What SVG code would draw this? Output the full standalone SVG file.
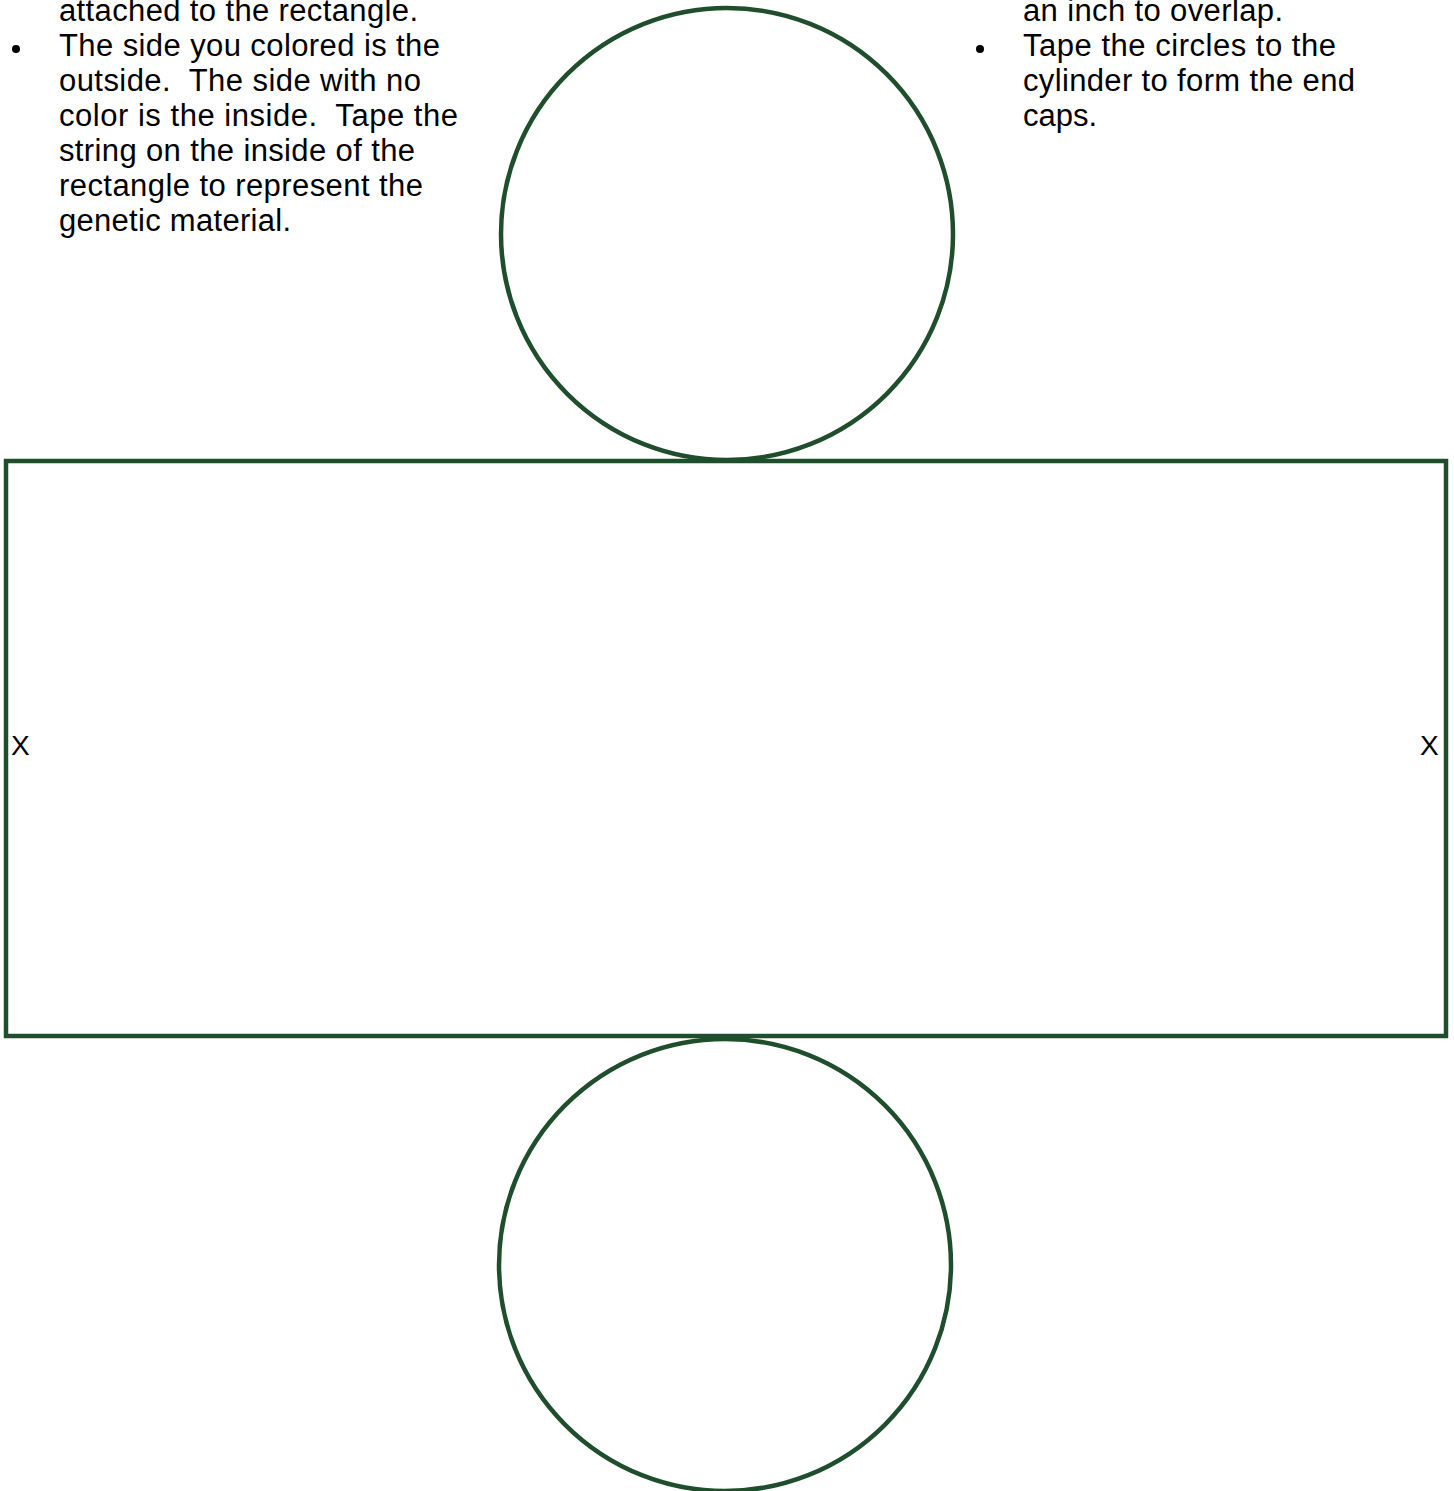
<svg xmlns="http://www.w3.org/2000/svg" width="1454" height="1491" viewBox="0 0 1454 1491">
<style>
.t{font-family:"Liberation Sans",Arial,sans-serif;font-size:31px;fill:#000}
.x{font-family:"Liberation Sans",Arial,sans-serif;font-size:28px;fill:#000}
.s{fill:none;stroke:#1f4e2c;stroke-width:4.5}
</style>
<rect width="1454" height="1491" fill="#fff"/>
<g id="text-left" class="t">
<text x="59" y="21" textLength="359" lengthAdjust="spacing">attached to the rectangle.</text>
<circle cx="16" cy="49" r="4" fill="#000"/>
<text x="59" y="56" textLength="381" lengthAdjust="spacing">The side you colored is the</text>
<text x="59" y="91" textLength="362" lengthAdjust="spacing" xml:space="preserve">outside.  The side with no</text>
<text x="59" y="126" textLength="399" lengthAdjust="spacing" xml:space="preserve">color is the inside.  Tape the</text>
<text x="59" y="161" textLength="356" lengthAdjust="spacing">string on the inside of the</text>
<text x="59" y="196" textLength="364" lengthAdjust="spacing">rectangle to represent the</text>
<text x="59" y="231" textLength="232" lengthAdjust="spacing">genetic material.</text>
</g>
<g id="text-right" class="t">
<text x="1023" y="21" textLength="260" lengthAdjust="spacing">an inch to overlap.</text>
<circle cx="980" cy="49" r="4" fill="#000"/>
<text x="1023" y="56" textLength="313" lengthAdjust="spacing">Tape the circles to the</text>
<text x="1023" y="91" textLength="332" lengthAdjust="spacing">cylinder to form the end</text>
<text x="1023" y="126" textLength="74" lengthAdjust="spacing">caps.</text>
</g>
<g id="top-circle"><circle class="s" cx="727" cy="234" r="226"/></g>
<g id="rectangle"><rect class="s" x="6" y="461" width="1440" height="575"/></g>
<g id="bottom-circle"><circle class="s" cx="725" cy="1265" r="226"/></g>
<g id="marks" class="x">
<text x="11" y="755">X</text>
<text x="1420" y="755">X</text>
</g>
<g id="connectors"/>
</svg>
